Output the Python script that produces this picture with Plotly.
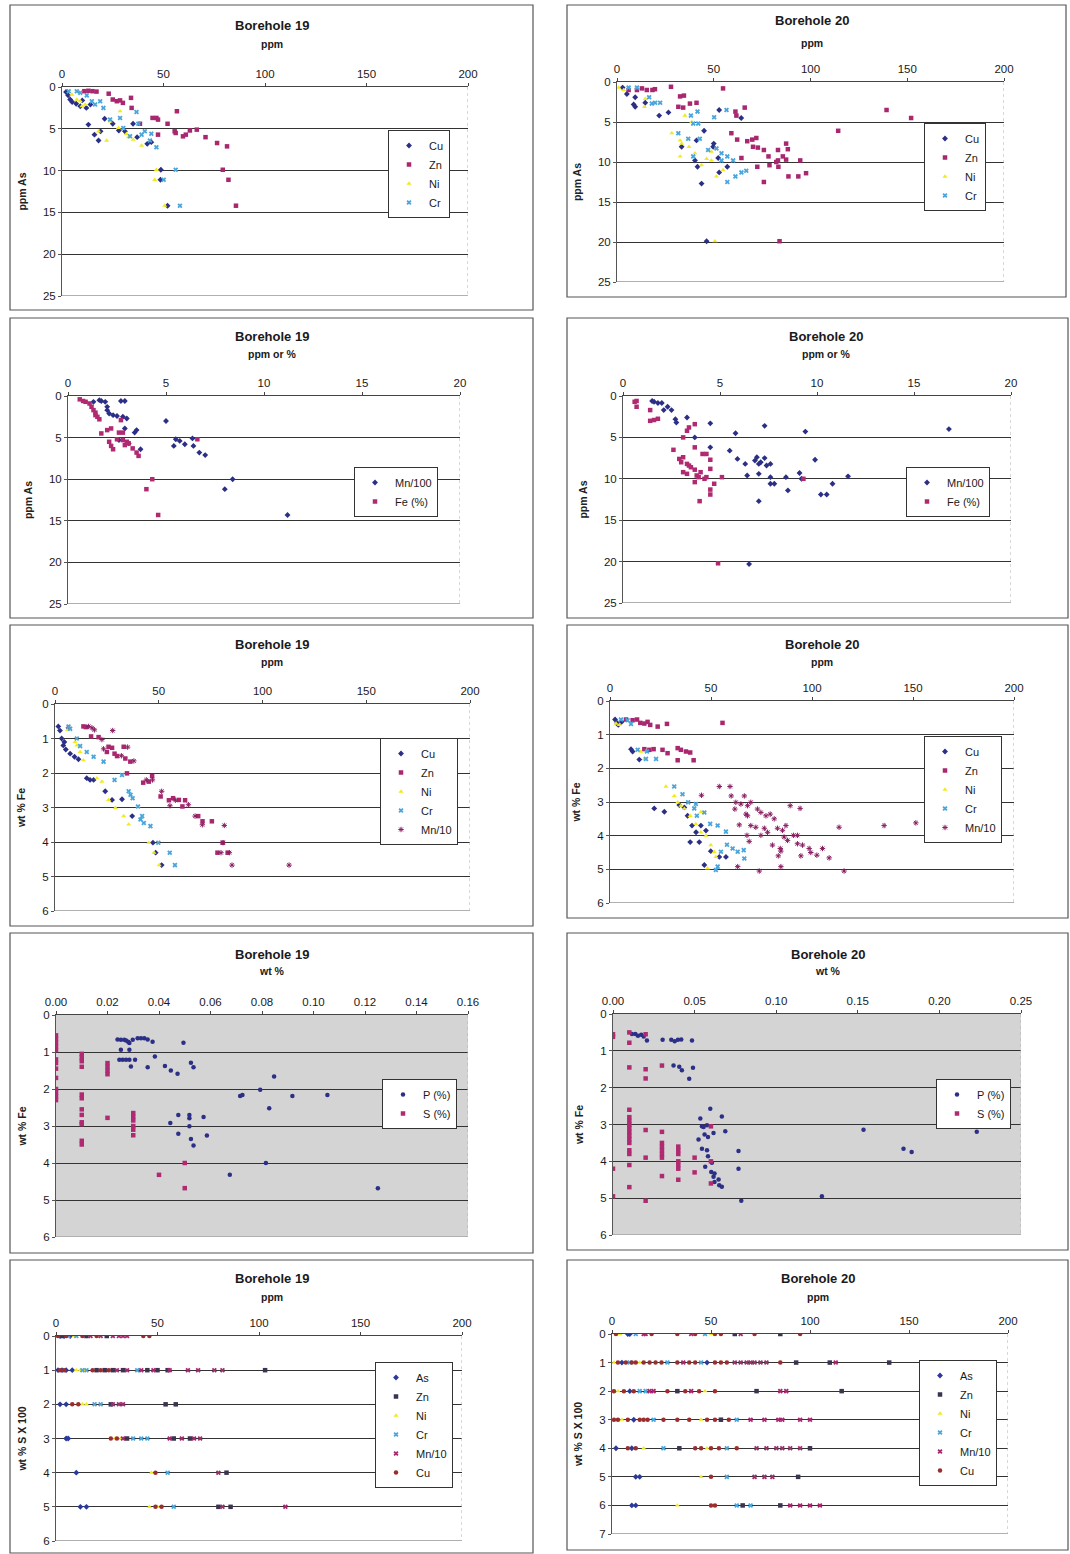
import plotly.graph_objects as go

W, H = 1070, 1554
FONT = "Liberation Sans, Arial, sans-serif"

# ---------------- Panel 1: Borehole 19, ppm vs ppm As ----------------
p1_cu_x = [2, 3, 4, 5, 7, 9, 12, 14, 10, 13, 16, 18, 19, 21, 25, 28, 31, 35, 37, 42, 44, 48.7, 48.5, 52]
p1_cu_y = [0.6, 1.0, 1.5, 1.8, 2.0, 2.3, 2.5, 2.1, 1.6, 4.5, 5.7, 6.4, 5.3, 3.8, 4.4, 5.2, 5.3, 4.4, 6.0, 6.8, 6.6, 9.9, 11.1, 14.2]
p1_zn_x = [11, 13, 15, 17, 23, 25, 27, 28.6, 30, 34, 34.3, 38.4, 44.6, 46.5, 47.3, 47.3, 52, 55.5, 56, 56.6, 59.6, 61, 63, 66.4, 70.7, 76.4, 81.3, 79.2, 82, 85.7]
p1_zn_y = [0.5, 0.45, 0.5, 0.55, 0.8, 1.5, 1.7, 1.6, 1.9, 1.3, 2.5, 4.4, 3.7, 3.7, 3.9, 5.7, 4.4, 5.3, 5.5, 2.9, 5.9, 5.7, 5.2, 5.1, 6.0, 6.7, 7.1, 9.9, 11.1, 14.2]
p1_ni_x = [4.9, 7.3, 9, 9.8, 11.4, 18, 22, 23.7, 27.8, 28.6, 31.8, 32.7, 35.1, 39.2, 46.5, 45.7, 50.6]
p1_ni_y = [0.9, 1.5, 1.7, 2.3, 2.1, 5.3, 6.4, 4.1, 4.9, 2.9, 5.6, 6.0, 6.3, 7.0, 9.9, 11.1, 14.2]
p1_cr_x = [3.3, 7.3, 9, 12.2, 14.7, 16.3, 18.8, 20.4, 23.7, 28.6, 30.2, 33.5, 36.7, 37.6, 39.2, 40.8, 43.3, 44, 46.5, 50.1, 56, 58.1]
p1_cr_y = [0.5, 0.5, 0.7, 1.0, 1.7, 2.1, 1.7, 2.5, 3.9, 3.7, 4.9, 5.9, 3.0, 4.4, 5.7, 5.3, 6.4, 5.6, 7.2, 11.1, 9.9, 14.2]

# ---------------- Panel 2: Borehole 20, ppm vs ppm As ----------------
p2_cu_x = [2.9, 5.1, 8.6, 9.4, 9.4, 14.6, 21.8, 26.6, 33.4, 40.3, 41.1, 41.6, 43.7, 45, 46.3, 49.7, 50, 52.3, 52.8, 52.8, 57, 64.2]
p2_cu_y = [0.7, 1.5, 2.8, 1.9, 3.1, 2.6, 4.2, 3.8, 8.1, 9.8, 7.3, 10.6, 12.7, 6.1, 19.9, 8.1, 7.7, 9.5, 3.5, 11.3, 10.6, 4.5]
p2_zn_x = [6, 10.3, 12.9, 15.4, 18.3, 19.6, 27.9, 31.7, 32.6, 34.2, 34.6, 37.7, 41.1, 54.8, 59.1, 61.2, 61.7, 62.1, 64.3, 66, 67.3, 69.9, 70.3, 72, 72.5, 72.8, 75.9, 75.9, 78.3, 78.8, 82.3, 83.2, 83.2, 83.4, 84, 85.7, 87.4, 87.4, 88.3, 88.6, 93.7, 94.7, 97.7, 114.3, 139.3, 152]
p2_zn_y = [1, 1, 0.8, 1, 1, 0.9, 0.6, 3.1, 1.8, 3.2, 1.7, 2.7, 2.6, 0.8, 6.4, 3.7, 4.2, 7.2, 9.5, 3.2, 7.4, 7.2, 8.1, 7.0, 10.6, 8.2, 8.5, 12.5, 9.3, 10.4, 10.0, 9.8, 8.5, 10.6, 19.9, 9.3, 9.7, 7.7, 8.4, 11.8, 11.8, 9.8, 11.4, 6.1, 3.5, 4.5]
p2_ni_x = [0.9, 3.4, 14.2, 14.6, 28.3, 32.6, 32.6, 33.4, 35.1, 37.2, 38.6, 40.3, 43.7, 46.3, 48.8, 48.8, 50.6, 51.4, 54.8]
p2_ni_y = [0.7, 1.0, 3.1, 2.1, 6.4, 7.3, 9.3, 7.7, 4.2, 8.1, 5.0, 8.9, 10.4, 9.6, 9.8, 8.7, 19.9, 11.8, 11.0]
p2_cr_x = [6, 10.3, 16.6, 18, 19.7, 22.3, 31.7, 36.8, 38.2, 39.4, 39.4, 41.6, 42, 42.8, 47.1, 50.2, 51.4, 54, 54, 56.6, 57, 57, 60, 61.2, 64.3, 66.8]
p2_cr_y = [0.7, 0.7, 1.9, 2.7, 2.6, 2.6, 6.4, 7.1, 4.2, 5.2, 9.3, 3.7, 5.2, 7.1, 8.5, 4.4, 8.3, 8.9, 9.8, 3.5, 9.3, 12.5, 9.8, 11.8, 11.3, 11.1]

# ---------------- Panel 3: Borehole 19, Mn/100 & Fe vs ppm As ----------------
p3_mn_x = [1.3, 1.6, 1.7, 1.9, 2.0, 2.0, 2.1, 2.3, 2.5, 2.6, 2.7, 2.8, 2.9, 2.9, 3.0, 3.1, 3.4, 3.5, 3.7, 5.0, 5.4, 5.5, 5.7, 5.96, 6.35, 6.4, 6.7, 7.0, 8.4, 8.0, 11.2]
p3_mn_y = [0.7, 0.5, 0.6, 0.7, 1.3, 1.7, 2.1, 2.3, 2.4, 5.3, 0.6, 2.5, 0.6, 3.9, 2.7, 5.7, 4.4, 4.1, 6.4, 3.0, 6.0, 5.2, 5.4, 5.8, 5.1, 6.0, 6.8, 7.1, 10.0, 11.2, 14.3]
p3_fe_x = [0.6, 0.77, 0.9, 1.1, 1.2, 1.3, 1.4, 1.4, 1.5, 1.6, 1.7, 2.0, 2.1, 2.2, 2.2, 2.3, 2.5, 2.6, 2.7, 2.8, 2.8, 2.9, 3.0, 3.1, 3.3, 3.5, 3.6, 4.3, 4.0, 4.6, 6.6]
p3_fe_y = [0.4, 0.6, 0.7, 0.9, 1.3, 1.7, 2.0, 2.3, 2.5, 2.8, 4.5, 4.1, 5.5, 3.9, 6.0, 6.4, 5.2, 4.4, 2.9, 4.4, 5.3, 5.9, 5.5, 5.7, 6.3, 6.8, 7.2, 10.0, 11.2, 14.3, 5.2]

# ---------------- Panel 4: Borehole 20, Mn/100 & Fe vs ppm As ----------------
p4_mn_x = [1.5, 1.6, 1.8, 2.0, 2.1, 2.3, 2.5, 2.7, 2.75, 3.3, 3.7, 4.5, 4.5, 5.5, 5.8, 5.9, 6.3, 6.4, 6.5, 6.8, 6.9, 7.0, 7.0, 7.0, 7.1, 7.3, 7.3, 7.4, 7.6, 7.6, 7.6, 7.8, 8.4, 8.5, 9.1, 9.2, 9.4, 9.9, 10.2, 10.5, 10.8, 11.6, 16.8]
p4_mn_y = [0.6, 0.7, 0.85, 0.85, 1.7, 1.3, 1.7, 2.8, 3.2, 2.6, 5.0, 3.3, 6.2, 6.6, 4.5, 7.6, 8.2, 9.6, 20.3, 7.8, 7.4, 8.2, 9.4, 12.7, 8.0, 7.5, 3.6, 8.4, 8.2, 9.8, 10.6, 10.6, 9.8, 11.4, 9.3, 10.0, 4.3, 7.7, 11.9, 11.9, 10.6, 9.7, 4.0]
p4_fe_x = [0.6, 0.7, 0.7, 1.4, 1.4, 1.6, 1.8, 2.6, 2.9, 3.0, 3.1, 3.1, 3.1, 3.3, 3.3, 3.3, 3.4, 3.4, 3.5, 3.7, 3.7, 3.7, 3.7, 3.8, 3.9, 3.95, 4.0, 4.1, 4.2, 4.3, 4.3, 4.5, 4.5, 4.5, 4.5, 4.7, 4.9, 5.1, 9.3]
p4_fe_y = [0.7, 0.6, 1.3, 1.7, 3.0, 2.9, 2.75, 6.5, 7.6, 8.0, 9.2, 7.4, 5.0, 9.4, 8.2, 4.2, 8.4, 3.8, 8.6, 8.9, 10.4, 3.4, 6.2, 9.6, 9.8, 12.7, 9.2, 7.0, 10.0, 9.8, 7.0, 11.3, 11.9, 8.8, 7.7, 10.6, 20.2, 9.8, 10.0]

# ---------------- Panel 5: Borehole 19, ppm vs wt % Fe ----------------
p5_cu_x = [1.6, 2.4, 3.2, 4.0, 4.5, 5.2, 6.5, 7.3, 9.4, 11.3, 15.3, 16.9, 18.6, 24.2, 27.5, 32.3, 37.2, 47.2, 48.5, 51.4]
p5_cu_y = [0.65, 0.77, 1.0, 1.2, 1.1, 1.32, 0.69, 1.44, 1.53, 1.6, 2.15, 2.2, 2.2, 2.53, 2.78, 2.76, 3.25, 4.02, 4.31, 4.67]
p5_zn_x = [13.7, 14.9, 17.4, 21, 25, 25.8, 27.5, 28.7, 29.9, 33.1, 33.9, 34.7, 36.3, 42.5, 45.2, 46.8, 50.9, 54.9, 56.9, 59.7, 61.4, 62.7, 69, 71.1, 75.6, 78.3, 80.8, 83.2]
p5_zn_y = [0.65, 0.67, 0.94, 0.96, 1.39, 1.24, 1.27, 1.44, 1.51, 1.24, 1.58, 2.01, 1.67, 2.28, 2.25, 2.09, 2.68, 2.79, 2.73, 2.78, 2.97, 2.79, 3.25, 3.4, 3.4, 4.31, 4.02, 4.31]
p5_ni_x = [6.1, 9.7, 10.5, 12.1, 13.7, 20.2, 22.6, 25.8, 29.1, 33.1, 35.5, 45.2, 47.7, 50.2]
p5_ni_y = [0.75, 1.1, 1.2, 1.39, 1.63, 2.15, 2.25, 2.78, 3.01, 3.25, 3.49, 4.02, 4.31, 4.67]
p5_cr_x = [6.5, 7.3, 10.5, 12.1, 15.3, 18.6, 23.4, 28.7, 32.3, 35.5, 36.4, 37.4, 40, 41.2, 42, 42.8, 46, 49.8, 55.3, 57.8]
p5_cr_y = [0.65, 0.72, 1.0, 1.22, 1.39, 1.53, 1.67, 2.2, 2.06, 2.53, 2.63, 2.73, 2.97, 3.35, 3.25, 3.45, 3.54, 4.02, 4.31, 4.67]
p5_mn_x = [16.2, 17.8, 19, 22.6, 23.4, 27.8, 32, 35, 38, 44, 47, 51.4, 55.4, 58, 64.3, 67.5, 71, 81.6, 81, 80, 84, 85.3, 112.8]
p5_mn_y = [0.65, 0.69, 0.75, 1.03, 1.3, 0.77, 1.5, 1.25, 1.65, 2.2, 2.2, 2.53, 2.95, 2.79, 2.92, 3.25, 3.5, 3.52, 4.02, 4.31, 4.31, 4.67, 4.67]

# ---------------- Panel 6: Borehole 20, ppm vs wt % Fe ----------------
p6_cu_x = [2.5, 3.5, 4.1, 5.8, 10.4, 11.2, 14.5, 21.9, 26.9, 34.3, 36.8, 38.4, 39.7, 40.6, 42.6, 44.2, 45, 46.7, 47.5, 49.9, 54.1, 57.4]
p6_cu_y = [0.55, 0.65, 0.71, 0.62, 1.43, 1.5, 1.74, 3.19, 3.29, 3.09, 3.16, 3.41, 4.19, 3.7, 3.9, 4.19, 3.7, 4.87, 3.85, 4.46, 4.63, 4.63]
p6_zn_x = [7.9, 11.2, 13.4, 15, 17, 18.6, 19.9, 23.6, 28.2, 17, 19.5, 21.6, 26, 28.5, 33.5, 35.1, 37.6, 39.7, 41.4, 33.5, 55.7]
p6_zn_y = [0.55, 0.57, 0.55, 0.65, 0.67, 0.62, 0.71, 0.76, 0.68, 1.43, 1.45, 1.43, 1.45, 1.55, 1.4, 1.45, 1.5, 1.53, 1.76, 1.76, 0.65]
p6_ni_x = [3, 4.6, 15.3, 17, 27.7, 31.8, 33.5, 35.1, 36.8, 39.7, 42.5, 45, 45, 47.5, 48.3, 49.9, 51.6, 52.4]
p6_ni_y = [0.67, 0.71, 1.5, 1.72, 2.54, 2.82, 3.01, 3.11, 3.2, 3.41, 3.65, 3.9, 3.3, 4.0, 4.97, 4.28, 4.48, 4.63]
p6_cr_x = [5.4, 8.7, 10.4, 13.7, 17.8, 18.3, 22.8, 31.8, 35.9, 38.7, 41.7, 42.5, 43, 46.7, 49.6, 52.4, 53.3, 53.3, 54.9, 57.4, 57.9, 60.7, 63.2, 66.2, 66.5]
p6_cr_y = [0.55, 0.57, 0.68, 1.45, 1.72, 1.5, 1.72, 2.54, 2.77, 3.01, 3.19, 3.06, 3.41, 3.31, 3.65, 5.02, 3.7, 4.92, 4.48, 3.88, 4.27, 4.38, 4.48, 4.43, 4.68]
p6_mn_x = [45.3, 54.1, 59.4, 60, 61.8, 62.3, 63.2, 64, 64.8, 66.5, 67.3, 67.8, 68.1, 68.1, 68.9, 69.7, 69.7, 72.2, 73, 73.9, 74.7, 74.7, 76.4, 77.2, 78, 79.3, 80.4, 81.3, 82.9, 83.3, 84.3, 84.6, 84.6, 85.4, 86.2, 87.1, 87.9, 89.2, 90.8, 92.8, 92.8, 94.1, 94.5, 95.3, 98.6, 99.4, 102.4, 105.2, 108.5, 113.4, 115.9, 135.7, 151.4]
p6_mn_y = [2.8, 2.54, 2.54, 2.82, 3.21, 3.01, 4.92, 3.68, 3.06, 2.82, 3.36, 3.99, 3.11, 3.41, 4.17, 3.01, 3.7, 3.75, 3.21, 5.05, 3.31, 3.99, 3.78, 3.41, 3.9, 3.36, 4.28, 3.5, 3.78, 4.6, 4.38, 4.46, 4.92, 3.84, 4.04, 3.7, 4.14, 3.11, 3.99, 3.99, 4.24, 3.19, 4.6, 4.28, 4.38, 4.5, 4.58, 4.38, 4.66, 3.75, 5.05, 3.7, 3.62]

# ---------------- Panel 7: Borehole 19, wt % P & S vs wt % Fe ----------------
p7_p_x = [0.0239, 0.0252, 0.0265, 0.0272, 0.0280, 0.0298, 0.0317, 0.0330, 0.0343, 0.0356, 0.0375, 0.0285, 0.0495, 0.0252, 0.0285, 0.0246, 0.0259, 0.0272, 0.0285, 0.0307, 0.0291, 0.0356, 0.0384, 0.0423, 0.0446, 0.0472, 0.0524, 0.0534, 0.0847, 0.0715, 0.0724, 0.0793, 0.0918, 0.1054, 0.0828, 0.0475, 0.0518, 0.0518, 0.0573, 0.0444, 0.0518, 0.0475, 0.0524, 0.0534, 0.0586, 0.0815, 0.0675, 0.125]
p7_p_y = [0.66, 0.67, 0.67, 0.69, 0.72, 0.67, 0.63, 0.63, 0.63, 0.66, 0.72, 0.76, 0.75, 0.94, 0.94, 1.21, 1.21, 1.21, 1.21, 1.21, 1.39, 1.41, 1.12, 1.38, 1.5, 1.59, 1.29, 1.41, 1.66, 2.19, 2.16, 2.02, 2.19, 2.16, 2.52, 2.7, 2.7, 2.79, 2.76, 2.92, 3.01, 3.21, 3.35, 3.53, 3.26, 4.0, 4.32, 4.68]
p7_s_x = [0.00, 0.00, 0.00, 0.00, 0.00, 0.00, 0.00, 0.00, 0.00, 0.00, 0.00, 0.00, 0.00,
          0.01, 0.01, 0.01, 0.01, 0.01, 0.01, 0.01, 0.01, 0.01, 0.01, 0.01, 0.01,
          0.02, 0.02, 0.02, 0.02, 0.02, 0.03, 0.03, 0.03, 0.03, 0.03, 0.03, 0.04, 0.05, 0.05]
p7_s_y = [0.55, 0.65, 0.75, 0.85, 0.95, 1.2, 1.3, 1.45, 1.7, 2.0, 2.1, 2.2, 2.3,
          1.05, 1.15, 1.25, 1.4, 2.15, 2.25, 2.55, 2.7, 2.9, 2.95, 3.4, 3.5,
          1.3, 1.4, 1.5, 1.6, 2.78, 2.65, 2.75, 2.85, 3.0, 3.1, 3.25, 4.32, 4.0, 4.68]

# ---------------- Panel 8: Borehole 20, wt % P & S vs wt % Fe ----------------
p8_p_x = [0.0116, 0.0137, 0.0153, 0.0173, 0.0188, 0.0208, 0.0304, 0.0357, 0.0378, 0.0398, 0.0418, 0.0484, 0.0371, 0.0406, 0.0422, 0.0490, 0.0467, 0.0596, 0.0667, 0.0688, 0.0535, 0.0545, 0.0555, 0.0576, 0.0561, 0.0582, 0.0616, 0.0524, 0.0545, 0.0576, 0.0582, 0.0606, 0.0565, 0.0602, 0.0622, 0.0616, 0.0647, 0.0622, 0.0651, 0.0667, 0.0769, 0.0769, 0.0786, 0.128, 0.1535, 0.178, 0.183, 0.2229]
p8_p_y = [0.54, 0.54, 0.59, 0.56, 0.61, 0.72, 0.7, 0.7, 0.74, 0.7, 0.69, 0.72, 1.4, 1.43, 1.53, 1.46, 1.76, 2.57, 2.78, 3.18, 2.84, 3.05, 3.07, 3.02, 3.27, 3.34, 3.23, 3.41, 3.66, 3.7, 3.86, 4.04, 4.15, 4.29, 4.33, 4.42, 4.49, 4.56, 4.65, 4.69, 3.72, 4.2, 5.07, 4.95, 3.14, 3.66, 3.75, 3.2]
p8_s_x = [0.00, 0.00, 0.00, 0.00,
          0.01, 0.01, 0.01, 0.01, 0.01, 0.01, 0.01, 0.01, 0.01, 0.01, 0.01, 0.01, 0.01, 0.01, 0.01, 0.01,
          0.02, 0.02, 0.02, 0.02, 0.02, 0.02,
          0.03, 0.03, 0.03, 0.03, 0.03, 0.03, 0.03, 0.03,
          0.04, 0.04, 0.04, 0.04, 0.04, 0.04, 0.04,
          0.05, 0.05, 0.06, 0.06, 0.06]
p8_s_y = [0.55, 0.62, 4.2, 4.95,
          0.5, 0.78, 1.45, 2.6, 2.8, 2.9, 3.0, 3.1, 3.2, 3.3, 3.4, 3.5, 3.7, 3.8, 4.1, 4.7,
          0.55, 1.5, 1.75, 3.15, 3.9, 5.07,
          1.4, 3.2, 3.5, 3.6, 3.7, 3.8, 3.9, 4.4,
          3.6, 3.7, 3.8, 4.0, 4.1, 4.2, 4.5,
          3.9, 4.3, 3.05, 4.0, 4.6]

# ---------------- Panel 9: Borehole 19, ppm vs wt % S x 100 ----------------
p9_as_x = [2, 4, 7, 1, 3, 5, 8, 2, 5, 5, 6, 10, 12, 15]
p9_as_y = [0, 0, 0, 1, 1, 1, 1, 2, 2, 3, 3, 4, 5, 5]
p9_zn_x = [3, 15, 25, 20, 24, 28, 33, 45, 50, 55, 103, 27, 54, 59, 35, 58, 66, 84, 80, 86]
p9_zn_y = [0, 0, 0, 1, 1, 1, 1, 1, 1, 1, 1, 2, 2, 2, 3, 3, 3, 4, 5, 5]
p9_ni_x = [9, 10, 12, 14, 13, 15, 29, 32, 47, 46, 50]
p9_ni_y = [0, 1, 1, 1, 2, 2, 3, 3, 4, 5, 5]
p9_cr_x = [6, 10, 13, 15, 40, 19, 22, 38, 42, 45, 55, 58]
p9_cr_y = [0, 0, 1, 1, 1, 2, 2, 3, 3, 3, 4, 5]
p9_mn_x = [17, 22, 28, 31, 33, 35, 30, 35, 42, 48, 56, 65, 70, 78, 82, 28, 31, 33, 33, 56, 62, 68, 71, 80, 82, 113]
p9_mn_y = [0, 0, 0, 0, 0, 0, 1, 1, 1, 1, 1, 1, 1, 1, 1, 2, 2, 2, 3, 3, 3, 3, 3, 4, 5, 5]
p9_cu_x = [1, 5, 13, 20, 43, 46, 2, 4, 18, 22, 26, 8, 11, 27, 30, 49, 49, 52]
p9_cu_y = [0, 0, 0, 0, 0, 0, 1, 1, 1, 1, 1, 2, 2, 3, 3, 4, 5, 5]

# ---------------- Panel 10: Borehole 20, ppm vs wt % S x 100 ----------------
p10_as_x = [8, 9, 5, 48, 9, 11, 2, 10, 12, 14, 10, 12]
p10_as_y = [0, 0, 1, 1, 2, 3, 4, 4, 5, 5, 6, 6]
p10_zn_x = [62, 85, 93, 110, 140, 33, 73, 116, 55, 157, 34, 100, 94, 66, 85]
p10_zn_y = [0, 0, 1, 1, 1, 2, 2, 2, 3, 3, 4, 4, 5, 6, 6]
p10_ni_x = [4, 50, 1, 14, 3, 47, 5, 45, 16, 48, 45, 33]
p10_ni_y = [0, 0, 1, 1, 2, 2, 3, 3, 4, 4, 5, 6]
p10_cr_x = [12, 47, 9, 28, 45, 14, 17, 21, 63, 26, 58, 58, 63, 70]
p10_cr_y = [0, 0, 1, 1, 1, 2, 2, 3, 3, 4, 4, 5, 6, 6]
p10_mn_x = [16, 17, 40, 65, 36, 62, 65, 68, 70, 72, 75, 78, 113, 19, 21, 40, 85, 88, 70, 77, 84, 86, 95, 100, 73, 78, 83, 86, 90, 95, 72, 77, 81, 90, 95, 100, 105]
p10_mn_y = [0, 0, 0, 0, 1, 1, 1, 1, 1, 1, 1, 1, 1, 2, 2, 2, 2, 2, 3, 3, 3, 3, 3, 3, 4, 4, 4, 4, 4, 4, 5, 5, 5, 6, 6, 6, 6]
p10_cu_x = [2, 20, 33, 42, 52, 55, 72, 95, 3, 7, 10, 12, 16, 19, 22, 25, 33, 39, 42, 52, 55, 58, 85, 1, 6, 11, 28, 37, 44, 52, 1, 3, 8, 14, 16, 18, 26, 33, 39, 48, 52, 59, 8, 12, 42, 45, 50, 54, 63, 50, 50, 52]
p10_cu_y = [0, 0, 0, 0, 0, 0, 0, 0, 1, 1, 1, 1, 1, 1, 1, 1, 1, 1, 1, 1, 1, 1, 1, 2, 2, 2, 2, 2, 2, 2, 3, 3, 3, 3, 3, 3, 3, 3, 3, 3, 3, 3, 4, 4, 4, 4, 4, 4, 4, 5, 6, 6]

# ---------------- styles ----------------
C_CU = "#2b2f86"
C_ZN = "#a8276f"
C_NI = "#f2ea1e"
C_CR = "#49a5dc"
C_MN = "#8a1e62"
C_FE = "#b02a72"
C_AS = "#2b3a9a"
C_ZN2 = "#3b3350"
C_CU2 = "#9a2d2d"

panels = [
    dict(box=(10, 5, 533, 310), plot=(62, 87, 468, 296), xmax=200, xd=50, xf="", ymax=25, yd=5,
         ytitle="ppm As", title="Borehole 19", sub="ppm", ty=(272, 25, 44), leg=(450, 130), grey=False,
         series=[("Cu", p1_cu_x, p1_cu_y, C_CU, "diamond"), ("Zn", p1_zn_x, p1_zn_y, C_ZN, "square"),
                 ("Ni", p1_ni_x, p1_ni_y, C_NI, "triangle-up"), ("Cr", p1_cr_x, p1_cr_y, C_CR, "x")]),
    dict(box=(567, 5, 1066, 297), plot=(617, 82, 1004, 282), xmax=200, xd=50, xf="", ymax=25, yd=5,
         ytitle="ppm As", title="Borehole 20", sub="ppm", ty=(812, 20, 43), leg=(986, 123), grey=False,
         series=[("Cu", p2_cu_x, p2_cu_y, C_CU, "diamond"), ("Zn", p2_zn_x, p2_zn_y, C_ZN, "square"),
                 ("Ni", p2_ni_x, p2_ni_y, C_NI, "triangle-up"), ("Cr", p2_cr_x, p2_cr_y, C_CR, "x")]),
    dict(box=(10, 318, 533, 618), plot=(68, 396, 460, 604), xmax=20, xd=5, xf="", ymax=25, yd=5,
         ytitle="ppm As", title="Borehole 19", sub="ppm or %", ty=(272, 337, 354), leg=(438, 467), grey=False,
         series=[("Mn/100", p3_mn_x, p3_mn_y, C_CU, "diamond"), ("Fe (%)", p3_fe_x, p3_fe_y, C_FE, "square")]),
    dict(box=(567, 318, 1068, 618), plot=(623, 396, 1011, 603), xmax=20, xd=5, xf="", ymax=25, yd=5,
         ytitle="ppm As", title="Borehole 20", sub="ppm or %", ty=(826, 337, 354), leg=(990, 467), grey=False,
         series=[("Mn/100", p4_mn_x, p4_mn_y, C_CU, "diamond"), ("Fe (%)", p4_fe_x, p4_fe_y, C_FE, "square")]),
    dict(box=(10, 625, 533, 926), plot=(55, 704, 470, 911), xmax=200, xd=50, xf="", ymax=6, yd=1,
         ytitle="wt % Fe", title="Borehole 19", sub="ppm", ty=(272, 644, 662), leg=(458, 738), grey=False,
         series=[("Cu", p5_cu_x, p5_cu_y, C_CU, "diamond"), ("Zn", p5_zn_x, p5_zn_y, C_ZN, "square"),
                 ("Ni", p5_ni_x, p5_ni_y, C_NI, "triangle-up"), ("Cr", p5_cr_x, p5_cr_y, C_CR, "x"),
                 ("Mn/10", p5_mn_x, p5_mn_y, C_MN, "asterisk")]),
    dict(box=(567, 625, 1068, 918), plot=(610, 701, 1014, 903), xmax=200, xd=50, xf="", ymax=6, yd=1,
         ytitle="wt % Fe", title="Borehole 20", sub="ppm", ty=(822, 644, 662), leg=(1002, 736), grey=False,
         series=[("Cu", p6_cu_x, p6_cu_y, C_CU, "diamond"), ("Zn", p6_zn_x, p6_zn_y, C_ZN, "square"),
                 ("Ni", p6_ni_x, p6_ni_y, C_NI, "triangle-up"), ("Cr", p6_cr_x, p6_cr_y, C_CR, "x"),
                 ("Mn/10", p6_mn_x, p6_mn_y, C_MN, "asterisk")]),
    dict(box=(10, 933, 533, 1253), plot=(56, 1015, 468, 1237), xmax=0.16, xd=0.02, xf=".2f", ymax=6, yd=1,
         ytitle="wt % Fe", title="Borehole 19", sub="wt %", ty=(272, 954, 971), leg=(457, 1079), grey=True,
         series=[("P (%)", p7_p_x, p7_p_y, C_CU, "circle"), ("S (%)", p7_s_x, p7_s_y, C_FE, "square")]),
    dict(box=(567, 933, 1068, 1250), plot=(613, 1014, 1021, 1235), xmax=0.25, xd=0.05, xf=".2f", ymax=6, yd=1,
         ytitle="wt % Fe", title="Borehole 20", sub="wt %", ty=(828, 954, 971), leg=(1011, 1079), grey=True,
         series=[("P (%)", p8_p_x, p8_p_y, C_CU, "circle"), ("S (%)", p8_s_x, p8_s_y, C_FE, "square")]),
    dict(box=(10, 1260, 533, 1553), plot=(56, 1336, 462, 1541), xmax=200, xd=50, xf="", ymax=6, yd=1,
         ytitle="wt % S X 100", title="Borehole 19", sub="ppm", ty=(272, 1278, 1297), leg=(453, 1362), grey=False,
         series=[("As", p9_as_x, p9_as_y, C_AS, "diamond"), ("Zn", p9_zn_x, p9_zn_y, C_ZN2, "square"),
                 ("Ni", p9_ni_x, p9_ni_y, C_NI, "triangle-up"), ("Cr", p9_cr_x, p9_cr_y, C_CR, "x"),
                 ("Mn/10", p9_mn_x, p9_mn_y, C_ZN, "x"), ("Cu", p9_cu_x, p9_cu_y, C_CU2, "circle")]),
    dict(box=(567, 1260, 1068, 1550), plot=(612, 1334, 1008, 1534), xmax=200, xd=50, xf="", ymax=7, yd=1,
         ytitle="wt % S X 100", title="Borehole 20", sub="ppm", ty=(818, 1278, 1297), leg=(997, 1360), grey=False,
         series=[("As", p10_as_x, p10_as_y, C_AS, "diamond"), ("Zn", p10_zn_x, p10_zn_y, C_ZN2, "square"),
                 ("Ni", p10_ni_x, p10_ni_y, C_NI, "triangle-up"), ("Cr", p10_cr_x, p10_cr_y, C_CR, "x"),
                 ("Mn/10", p10_mn_x, p10_mn_y, C_ZN, "x"), ("Cu", p10_cu_x, p10_cu_y, C_CU2, "circle")]),
]

fig = go.Figure()
layout = dict(width=W, height=H, margin=dict(l=0, r=0, t=0, b=0, pad=0, autoexpand=False), autosize=False,
              paper_bgcolor="white", plot_bgcolor="rgba(0,0,0,0)",
              font=dict(family=FONT, size=11, color="#222"), showlegend=True)
shapes, annotations = [], []

for i, p in enumerate(panels, start=1):
    sfx = "" if i == 1 else str(i)
    xa, ya = "x" + sfx, "y" + sfx
    lg = "legend" if i == 1 else "legend" + str(i)
    px0, py0, px1, py1 = p["plot"]
    layout["xaxis" + sfx] = dict(
        domain=[px0 / W, px1 / W], anchor=ya, side="top", range=[0, p["xmax"]], dtick=p["xd"], tick0=0,
        tickformat=p["xf"], showgrid=False, zeroline=False, showline=True, linecolor="#444", linewidth=1.3,
        ticks="outside", ticklen=3, tickcolor="#444", tickfont=dict(size=11.5, family=FONT, color="#1a1a1a"),
        fixedrange=True, automargin=False)
    layout["yaxis" + sfx] = dict(
        domain=[1 - py1 / H, 1 - py0 / H], anchor=xa, range=[p["ymax"], 0], dtick=p["yd"], tick0=0,
        showgrid=True, gridcolor="#333333", gridwidth=1.4, zeroline=False, showline=True,
        linecolor="#555", linewidth=1, ticks="outside", ticklen=3, tickcolor="#555",
        tickfont=dict(size=11.5, family=FONT, color="#1a1a1a"),
        title=dict(text="<b>" + p["ytitle"] + "</b>", font=dict(size=10.5, family=FONT, color="#222"), standoff=14),
        fixedrange=True, automargin=False)
    for name, xs, ys, col, sym in p["series"]:
        fig.add_trace(go.Scatter(
            x=xs, y=ys, mode="markers", name=name, xaxis=xa, yaxis=ya, legend=lg,
            marker=dict(color=col, symbol=sym, size=4.5,
                        line=dict(width=1 if sym == "asterisk" else 0, color=col)),
            hoverinfo="x+y+name"))
    lx, ly = p["leg"]
    layout[lg] = dict(x=lx / W, y=1 - ly / H, xanchor="right", yanchor="top", xref="paper", yref="paper",
                      bgcolor="white", bordercolor="#333", borderwidth=1,
                      font=dict(size=11, family=FONT, color="#1a1a1a"), itemsizing="trace",
                      tracegroupgap=0, itemwidth=30)
    # panel frame
    bx0, by0, bx1, by1 = p["box"]
    shapes.append(dict(type="rect", xref="paper", yref="paper", x0=bx0 / W, x1=bx1 / W,
                       y0=1 - by1 / H, y1=1 - by0 / H, line=dict(color="#555", width=1.2), layer="below"))
    # grey plot area
    if p["grey"]:
        shapes.append(dict(type="rect", xref=xa, yref=ya, x0=0, x1=p["xmax"], y0=0, y1=p["ymax"],
                           fillcolor="#d4d4d4", line=dict(width=0), layer="below"))
    # light bottom & right border of plot area
    shapes.append(dict(type="line", xref=xa, yref=ya, x0=0, x1=p["xmax"], y0=p["ymax"], y1=p["ymax"],
                       line=dict(color="#b0b0b0", width=2), layer="above"))
    shapes.append(dict(type="line", xref=xa, yref=ya, x0=p["xmax"], x1=p["xmax"], y0=0, y1=p["ymax"],
                       line=dict(color="#b0b0b0", width=1, dash="dot"), layer="above"))
    # titles
    cx, t1, t2 = p["ty"]
    annotations.append(dict(text="<b>" + p["title"] + "</b>", xref="paper", yref="paper", x=cx / W,
                            y=1 - t1 / H, xanchor="center", yanchor="middle", showarrow=False,
                            font=dict(size=13, family=FONT, color="#1a1a1a")))
    annotations.append(dict(text="<b>" + p["sub"] + "</b>", xref="paper", yref="paper", x=cx / W,
                            y=1 - t2 / H, xanchor="center", yanchor="middle", showarrow=False,
                            font=dict(size=10.5, family=FONT, color="#1a1a1a")))

layout["shapes"] = shapes
layout["annotations"] = annotations
fig.update_layout(**layout)
fig.write_html("out.html",
               post_script="document.body.style.margin='0';document.body.style.padding='0';"
                           "document.documentElement.style.overflow='hidden';")
